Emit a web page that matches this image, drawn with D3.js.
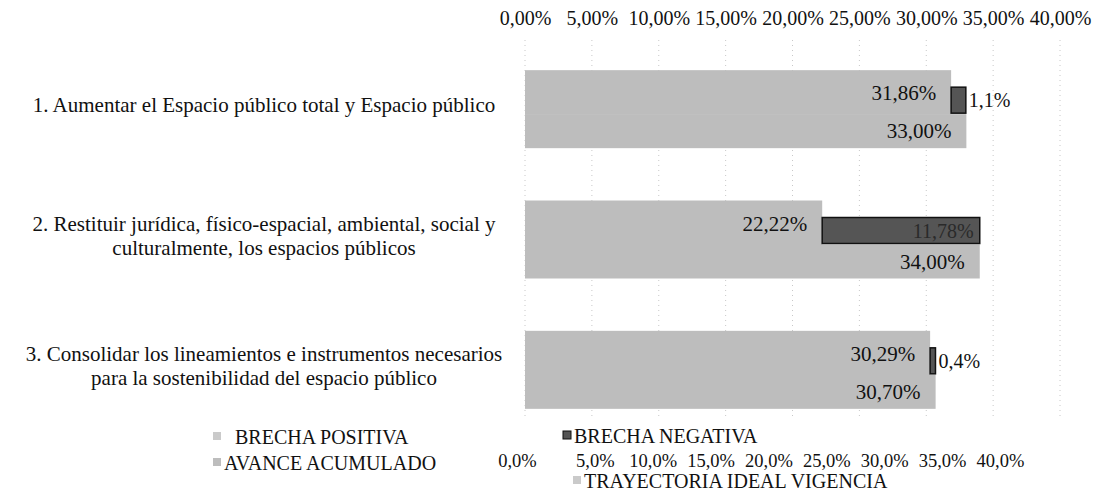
<!DOCTYPE html>
<html>
<head>
<meta charset="utf-8">
<script src="https://cdn.jsdelivr.net/npm/d3@7"></script>
<style>
  body { margin: 0; background: #fff; }
  svg text { font-family: "Liberation Serif", "DejaVu Serif", serif; fill: #111; }
</style>
</head>
<body>
<div id="chart"></div>
<script>
// datos
var categorias = ["c1", "c2", "c3"];
var etiquetas = [
  ["1. Aumentar el Espacio público total y Espacio público"],
  ["2. Restituir jurídica, físico-espacial, ambiental, social y", "culturalmente, los espacios públicos"],
  ["3. Consolidar los lineamientos e instrumentos necesarios", "para la sostenibilidad del espacio público"]
];
var avance = [31.86, 22.22, 30.29];
var trayectoria = [33.00, 34.00, 30.70];
var brechaNegativa = [1.1, 11.78, 0.4];
var brechaPositiva = [0, 0, 0];
var ticksSup = [0, 5, 10, 15, 20, 25, 30, 35, 40];
var ticksInf = [0, 5, 10, 15, 20, 25, 30, 35, 40];
var leyenda = ["BRECHA POSITIVA", "AVANCE ACUMULADO", "BRECHA NEGATIVA", "TRAYECTORIA IDEAL VIGENCIA"];

var width = 1102, height = 495;
var grisBarra = "#bdbdbd", grisClaro = "#cacaca", oscuro = "#555";

var es = d3.formatLocale({decimal: ",", thousands: ".", grouping: [3], currency: ["$", ""]});
var f2 = es.format(".2f"), f1 = es.format(".1f"), fb = es.format(".4~r");

var x = d3.scaleLinear().domain([0, 40]).range([525, 1060]);
var x2 = d3.scaleLinear().domain([0, 40]).range([537, 1000]);
var y = d3.scaleBand().domain(categorias).range([43, 434]);
var centro = c => y(c) + y.bandwidth() / 2;

var svg = d3.select("#chart").append("svg")
  .attr("width", width)
  .attr("height", height);

// lineas guia punteadas
svg.append("g").selectAll("line")
  .data(ticksSup)
  .join("line")
    .attr("x1", d => x(d)).attr("x2", d => x(d))
    .attr("y1", 40).attr("y2", 420)
    .attr("stroke", "#c8c8c8")
    .attr("stroke-dasharray", "1,4");

// eje superior
svg.append("g")
  .attr("transform", "translate(0,25)")
  .call(d3.axisTop(x).tickValues(ticksSup).tickSize(0).tickPadding(0).tickFormat(d => f2(d) + "%"))
  .call(g => g.select(".domain").remove())
  .call(g => g.selectAll("text").attr("font-size", 20).attr("font-family", null));

// eje inferior
svg.append("g")
  .attr("transform", "translate(0,454)")
  .call(d3.axisBottom(x2).tickValues(ticksInf).tickSize(0).tickPadding(0).tickFormat(d => f1(d) + "%"))
  .call(g => g.select(".domain").remove())
  .call(g => g.selectAll("text").attr("font-size", 18.5).attr("font-family", null))
  .call(g => g.select(".tick:first-of-type text").attr("dx", -20));

// barras
var barras = svg.append("g");

barras.selectAll(".tray")
  .data(categorias)
  .join("rect")
    .attr("class", "tray")
    .attr("x", x(0))
    .attr("y", c => centro(c) + 6)
    .attr("width", (c, i) => x(trayectoria[i]) - x(0))
    .attr("height", 34)
    .attr("fill", grisBarra);

barras.selectAll(".avance")
  .data(categorias)
  .join("rect")
    .attr("class", "avance")
    .attr("x", x(0))
    .attr("y", c => centro(c) - 38)
    .attr("width", (c, i) => x(avance[i]) - x(0))
    .attr("height", 44.5)
    .attr("fill", grisBarra);

barras.selectAll(".pos")
  .data(categorias)
  .join("rect")
    .attr("class", "pos")
    .attr("x", (c, i) => x(avance[i]))
    .attr("y", c => centro(c) - 21)
    .attr("width", (c, i) => x(brechaPositiva[i]) - x(0))
    .attr("height", 26)
    .attr("fill", grisClaro);

barras.selectAll(".neg")
  .data(categorias)
  .join("rect")
    .attr("class", "neg")
    .attr("x", (c, i) => x(avance[i] + brechaPositiva[i]))
    .attr("y", c => centro(c) - 21)
    .attr("width", (c, i) => x(brechaNegativa[i]) - x(0))
    .attr("height", 26)
    .attr("fill", oscuro)
    .attr("stroke", "#111")
    .attr("stroke-width", 1.5);

// etiquetas de valores
var et = svg.append("g").attr("font-size", 21);

et.selectAll(".lav")
  .data(categorias)
  .join("text")
    .attr("x", (c, i) => x(avance[i]) - 15)
    .attr("y", c => centro(c) - 8)
    .attr("text-anchor", "end")
    .text((c, i) => f2(avance[i]) + "%");

et.selectAll(".ltr")
  .data(categorias)
  .join("text")
    .attr("x", (c, i) => x(trayectoria[i]) - 15)
    .attr("y", c => centro(c) + 30)
    .attr("text-anchor", "end")
    .text((c, i) => f2(trayectoria[i]) + "%");

et.selectAll(".lneg")
  .data(categorias)
  .join("text")
    .attr("font-size", 20)
    .each(function(c, i) {
      var fin = x(avance[i] + brechaNegativa[i]);
      var dentro = x(brechaNegativa[i]) - x(0) > 60;
      d3.select(this)
        .attr("x", dentro ? fin - 6 : fin + 3)
        .attr("y", centro(c) - 1)
        .attr("text-anchor", dentro ? "end" : "start")
        .style("fill", dentro ? "#2a2a2a" : null)
        .text(fb(brechaNegativa[i]) + "%");
    });

// categorias
svg.append("g").selectAll("text")
  .data(categorias)
  .join("text")
    .attr("font-size", 21)
    .attr("text-anchor", "middle")
    .each(function(c, i) {
      var lineas = etiquetas[i];
      var t = d3.select(this);
      lineas.forEach(function(l, j) {
        t.append("tspan")
          .attr("x", 264)
          .attr("y", centro(c) + 4 + (j - (lineas.length - 1) / 2) * 24)
          .text(l);
      });
    });

// leyenda
var colores = [grisClaro, grisBarra, oscuro, grisClaro];
var posLeyenda = [[213, 437], [213, 463], [563, 436], [573, 481]];
var ley = svg.append("g").selectAll("g")
  .data(leyenda)
  .join("g")
    .attr("transform", (d, i) => `translate(${posLeyenda[i][0]},${posLeyenda[i][1]})`);
ley.append("rect")
  .attr("x", 0).attr("y", -5)
  .attr("width", 8).attr("height", 8)
  .attr("fill", (d, i) => colores[i])
  .attr("stroke", (d, i) => i == 2 ? "#111" : null);
ley.append("text")
  .attr("x", (d, i) => i == 0 ? 22 : 11)
  .attr("y", 7)
  .attr("font-size", 20)
  .text(d => d);
</script>
</body>
</html>
